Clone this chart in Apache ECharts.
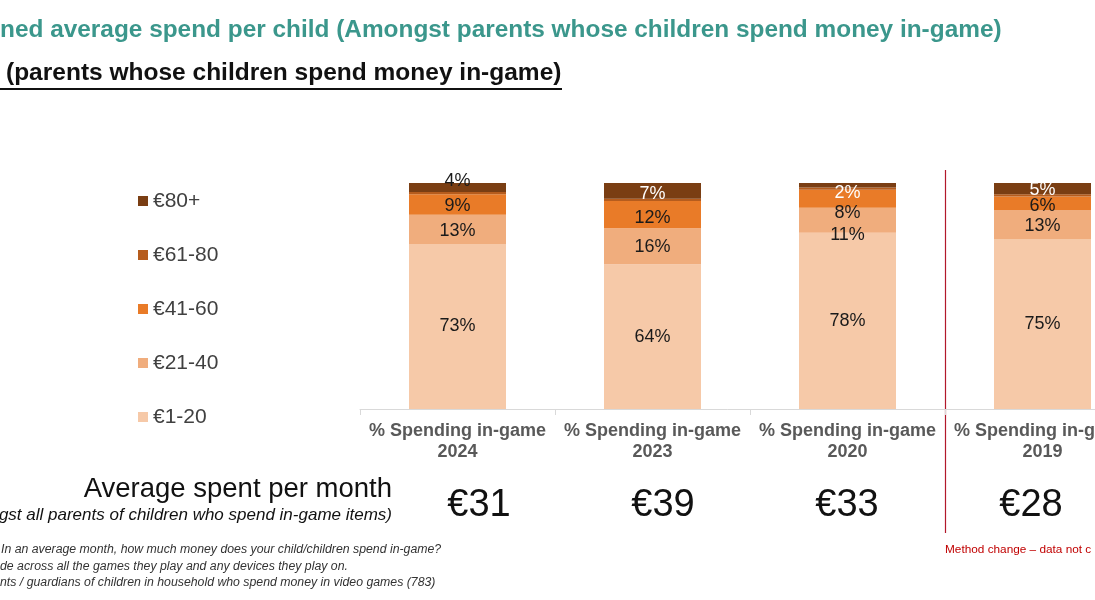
<!DOCTYPE html>
<html>
<head>
<meta charset="utf-8">
<script src="https://cdn.jsdelivr.net/npm/echarts@6/dist/echarts.min.js"></script>
<style>
html,body{margin:0;padding:0;background:#fff;}
#chart{width:1095px;height:600px;}
</style>
</head>
<body>
<div id="chart"></div>
<script>
// ---- data ----
const years = ['2024', '2023', '2020', '2019'];
const bandNames = ['€1-20', '€21-40', '€41-60', '€61-80', '€80+'];
const band1to20 = [73, 64, 78, 75];
const band21to40 = [13, 16, 11, 13];
const band41to60 = [9, 12, 8, 6];
const band61to80 = [1, 1, 1, 1];
const band80plus = [4, 7, 2, 5];
const avgSpend = [31, 39, 33, 28];

// ---- styles ----
const FONT = "'Liberation Sans', Arial, sans-serif";
const bandColors = ['#F6C9A8', '#F0AD7D', '#E97B28', '#B65C1D', '#7A3E13'];
const showLabel = [true, true, true, false, true];
const labelShift = [
  [0, 0, 0, 0],
  [2, 1, 15, 1],
  [2, 3, 14, 3],
  [0, 0, 0, 0],
  [-6, 3, 8, 1]
];
const labelColors = [
  ['#1a1a1a', '#1a1a1a', '#1a1a1a', '#1a1a1a'],
  ['#1a1a1a', '#1a1a1a', '#1a1a1a', '#1a1a1a'],
  ['#1a1a1a', '#1a1a1a', '#1a1a1a', '#1a1a1a'],
  ['#1a1a1a', '#1a1a1a', '#1a1a1a', '#1a1a1a'],
  ['#1a1a1a', '#ffffff', '#ffffff', '#ffffff']
];
const bands = [band1to20, band21to40, band41to60, band61to80, band80plus];

const chart = echarts.init(document.getElementById('chart'), null, {renderer: 'canvas'});

const series = bands.map((vals, si) => ({
  name: bandNames[si],
  type: 'bar',
  stack: 'total',
  barWidth: 97,
  xAxisIndex: 0,
  yAxisIndex: 0,
  itemStyle: {color: bandColors[si]},
  label: {
    show: showLabel[si],
    position: 'inside',
    fontFamily: FONT,
    fontSize: 18,
    formatter: '{c}%'
  },
  data: vals.map((v, ci) => ({
    value: v,
    label: {offset: [0, labelShift[si][ci]], color: labelColors[si][ci]}
  }))
}));

chart.setOption({
  animation: false,
  backgroundColor: '#ffffff',
  textStyle: {fontFamily: FONT},
  grid: [
    {left: 360, top: 183, width: 780, height: 226, outerBoundsMode: 'none', containLabel: false},
    {left: 387, top: 183, width: 736, height: 226, outerBoundsMode: 'none', containLabel: false}
  ],
  legend: {
    orient: 'vertical',
    left: 133,
    top: 185,
    itemWidth: 10,
    itemHeight: 10,
    itemGap: 32,
    icon: 'rect',
    data: ['€80+', '€61-80', '€41-60', '€21-40', '€1-20'],
    textStyle: {fontFamily: FONT, fontSize: 21, color: '#404040', lineHeight: 22}
  },
  xAxis: [{
    type: 'category',
    gridIndex: 0,
    data: years,
    axisLine: {lineStyle: {color: '#D9D9D9', width: 1}},
    axisTick: {show: true, length: 6, lineStyle: {color: '#D9D9D9'}},
    axisLabel: {
      interval: 0,
      margin: 12,
      fontFamily: FONT,
      fontSize: 18,
      fontWeight: 'bold',
      color: '#595959',
      lineHeight: 21,
      formatter: v => '% Spending in-game\n' + v
    }
  }, {
    type: 'category',
    gridIndex: 1,
    position: 'bottom',
    offset: 70,
    data: avgSpend.map(v => '€' + v),
    axisLine: {show: false},
    axisTick: {show: false},
    axisLabel: {
      interval: 0,
      margin: 8,
      fontFamily: FONT,
      fontSize: 38,
      color: '#111111'
    }
  }],
  yAxis: [
    {type: 'value', gridIndex: 0, min: 0, max: 100, show: false},
    {type: 'value', gridIndex: 1, min: 0, max: 100, show: false}
  ],
  series: series
});

const xPix = i => chart.convertToPixel({xAxisIndex: 0}, years[i]);
const sepX = Math.round((xPix(2) + xPix(3)) / 2) + 0.5;

chart.setOption({
  graphic: [
    {type: 'text', left: 0, top: 18, style: {
      text: 'ned average spend per child (Amongst parents whose children spend money in-game)',
      font: "bold 24.4px 'Liberation Sans', Arial, sans-serif", fill: '#3B978C'}},
    {type: 'text', left: 6, top: 61, style: {
      text: '(parents whose children spend money in-game)',
      font: "bold 24.5px 'Liberation Sans', Arial, sans-serif", fill: '#111111'}},
    {type: 'line', shape: {x1: 0, y1: 89, x2: 562, y2: 89}, style: {stroke: '#111111', lineWidth: 2}},
    {type: 'text', right: 703, top: 475, style: {
      text: 'Average spent per month',
      font: "27.5px 'Liberation Sans', Arial, sans-serif", fill: '#111111'}},
    {type: 'text', right: 703, top: 507, style: {
      text: 'ngst all parents of children who spend in-game items)',
      font: "italic 17px 'Liberation Sans', Arial, sans-serif", fill: '#111111'}},
    {type: 'text', left: 1, top: 544, style: {
      text: 'In an average month, how much money does your child/children spend in-game?',
      font: "italic 12.3px 'Liberation Sans', Arial, sans-serif", fill: '#333333'}},
    {type: 'text', left: 0, top: 561, style: {
      text: 'de across all the games they play and any devices they play on.',
      font: "italic 12.3px 'Liberation Sans', Arial, sans-serif", fill: '#333333'}},
    {type: 'text', left: 0, top: 577, style: {
      text: 'nts / guardians of children in household who spend money in video games (783)',
      font: "italic 12.3px 'Liberation Sans', Arial, sans-serif", fill: '#333333'}},
    {type: 'line', shape: {x1: sepX, y1: 170, x2: sepX, y2: 533}, style: {stroke: '#B2182B', lineWidth: 1.2}},
    {type: 'text', left: 945, top: 544, style: {
      text: 'Method change – data not c',
      font: "11.8px 'Liberation Sans', Arial, sans-serif", fill: '#C00000'}}
  ]
});
</script>
</body>
</html>
